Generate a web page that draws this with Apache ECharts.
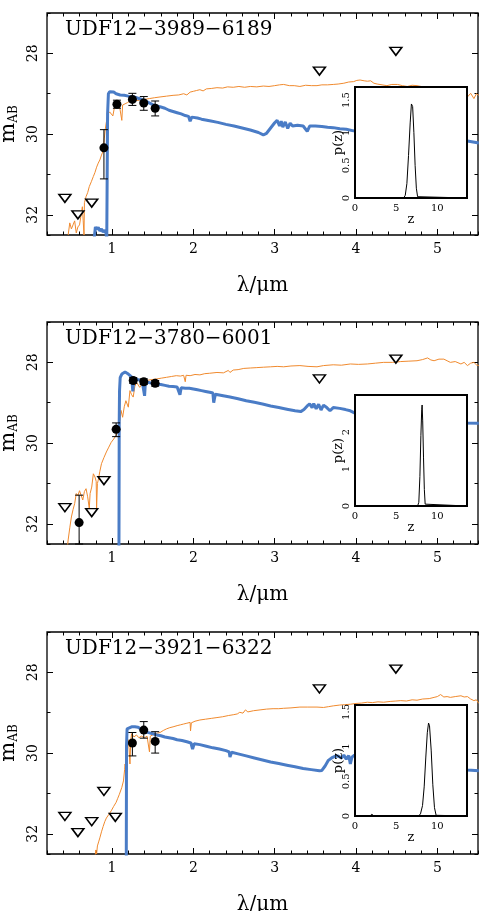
<!DOCTYPE html>
<html>
<head>
<meta charset="utf-8">
<script src="https://cdn.jsdelivr.net/npm/echarts@6/dist/echarts.min.js"></script>
<style>
  html, body { margin: 0; padding: 0; background: #fff; }
  #wrap { width: 481px; height: 911px; }
</style>
</head>
<body>
<div id="wrap"></div>
<script>
// object names
var names = ['UDF12\u22123989\u22126189', 'UDF12\u22123780\u22126001', 'UDF12\u22123921\u22126322'];

// tick labels
var xTicks = [1, 2, 3, 4, 5];
var yTicks = [28, 30, 32];
var pzXTicks = [0, 5, 10];
var pzYTicks1 = [0, 0.5, 1, 1.5];
var pzYTicks2 = [0, 1, 2];
var pzYTicks3 = [0, 0.5, 1, 1.5];
var pzMax = [1.7, 3.0, 1.6];
var pzStep = [0.5, 1, 0.5];

// ---- panel 1 : UDF12-3989-6189 ----
// high-z template [lambda um, mAB]
var blue1 = [[0.78,32.6],[0.795,32.3],[0.81,32.36],[0.83,32.31],[0.85,32.4],[0.87,32.35],[0.89,32.43],[0.91,32.38],[0.925,32.45],[0.935,32.6],[0.94,32.6],[0.945,29.5],[0.955,29.0],[0.97,28.95],[0.99,28.94],[1.02,28.96],[1.05,29.0],[1.1,29.03],[1.15,29.04],[1.2,29.06],[1.25,29.07],[1.3,29.1],[1.35,29.13],[1.4,29.17],[1.45,29.22],[1.5,29.27],[1.55,29.3],[1.6,29.33],[1.65,29.36],[1.7,29.41],[1.75,29.44],[1.8,29.47],[1.85,29.5],[1.9,29.54],[1.94,29.56],[1.96,29.68],[1.98,29.58],[2.05,29.6],[2.1,29.63],[2.2,29.67],[2.3,29.71],[2.4,29.76],[2.5,29.8],[2.6,29.85],[2.7,29.9],[2.8,29.96],[2.86,30.02],[2.9,29.98],[2.95,29.85],[3.0,29.72],[3.03,29.66],[3.06,29.8],[3.08,29.68],[3.1,29.83],[3.13,29.7],[3.16,29.86],[3.19,29.73],[3.22,29.8],[3.28,29.78],[3.35,29.8],[3.4,29.93],[3.43,29.8],[3.5,29.8],[3.58,29.81],[3.65,29.83],[3.72,29.84],[3.8,29.87],[3.88,29.88],[3.97,29.92],[4.05,29.93],[4.3,29.98],[4.6,30.04],[4.9,30.1],[5.2,30.15],[5.37,30.17],[5.51,30.22]];
// low-z template
var orange1 = [[0.46,32.5],[0.48,32.2],[0.5,32.35],[0.52,32.25],[0.54,32.15],[0.56,32.45],[0.58,32.3],[0.6,32.25],[0.62,32.0],[0.635,31.8],[0.645,32.15],[0.655,32.5],[0.66,31.7],[0.68,31.55],[0.7,31.45],[0.72,31.3],[0.745,31.18],[0.77,31.05],[0.79,30.95],[0.81,30.82],[0.83,30.72],[0.85,30.64],[0.87,30.52],[0.89,30.42],[0.905,30.1],[0.915,29.9],[0.93,29.7],[0.95,29.5],[0.97,29.45],[0.99,29.41],[1.01,29.55],[1.03,29.33],[1.06,29.31],[1.09,29.29],[1.11,29.3],[1.12,29.66],[1.13,29.28],[1.16,29.25],[1.19,29.22],[1.22,29.18],[1.28,29.17],[1.34,29.16],[1.4,29.14],[1.46,29.12],[1.52,29.1],[1.59,29.08],[1.67,29.06],[1.75,29.04],[1.82,29.03],[1.88,29.0],[1.92,29.03],[1.96,28.96],[2.0,28.94],[2.02,28.98],[2.04,28.92],[2.08,28.9],[2.12,28.93],[2.16,28.88],[2.22,28.87],[2.29,28.85],[2.36,28.86],[2.42,28.83],[2.49,28.84],[2.56,28.82],[2.63,28.84],[2.7,28.82],[2.78,28.83],[2.86,28.81],[2.93,28.82],[3.0,28.8],[3.06,28.78],[3.11,28.77],[3.18,28.8],[3.24,28.8],[3.31,28.82],[3.38,28.79],[3.45,28.8],[3.52,28.8],[3.58,28.78],[3.65,28.78],[3.72,28.77],[3.78,28.76],[3.85,28.74],[3.91,28.71],[3.97,28.7],[4.01,28.67],[4.05,28.66],[4.1,28.68],[4.14,28.69],[4.18,28.68],[4.22,28.74],[4.26,28.76],[4.32,28.78],[4.38,28.8],[4.44,28.77],[4.51,28.77],[4.57,28.8],[4.63,28.82],[4.69,28.79],[4.75,28.8],[4.85,28.84],[4.95,28.88],[5.05,28.93],[5.15,28.97],[5.25,29.0],[5.33,29.05],[5.37,29.08],[5.41,28.99],[5.45,29.12],[5.48,29.0],[5.51,29.04]];
// detections [lambda, mag, mag_bright, mag_faint]
var det1 = [[0.90,30.34,29.89,31.11],[1.06,29.26,29.16,29.36],[1.25,29.14,28.99,29.29],[1.39,29.23,29.07,29.41],[1.53,29.36,29.18,29.55]];
// upper limits
var lim1 = [[0.42,31.59],[0.58,32.0],[0.75,31.71],[3.55,28.44],[4.49,27.95]];
// p(z)
var pz1 = [[0,0],[5.9,0],[6.1,0.04],[6.3,0.22],[6.5,0.65],[6.7,1.15],[6.85,1.44],[6.92,1.47],[7.0,1.4],[7.15,1.0],[7.3,0.5],[7.45,0.15],[7.6,0.02],[7.75,0],[13.6,0]];

// ---- panel 2 : UDF12-3780-6001 ----
var blue2 = [[1.085,32.6],[1.088,29.5],[1.092,28.7],[1.1,28.38],[1.12,28.29],[1.14,28.25],[1.16,28.24],[1.18,28.26],[1.2,28.29],[1.22,28.33],[1.24,28.36],[1.255,28.72],[1.27,28.4],[1.3,28.42],[1.34,28.44],[1.37,28.46],[1.39,28.47],[1.4,28.83],[1.41,28.49],[1.45,28.5],[1.5,28.52],[1.55,28.54],[1.6,28.55],[1.65,28.57],[1.7,28.59],[1.75,28.6],[1.8,28.61],[1.82,28.63],[1.835,28.8],[1.85,28.63],[1.9,28.64],[1.95,28.64],[2.0,28.66],[2.05,28.68],[2.1,28.7],[2.15,28.72],[2.2,28.74],[2.24,28.76],[2.25,29.0],[2.27,28.79],[2.35,28.82],[2.45,28.86],[2.55,28.9],[2.65,28.95],[2.75,28.99],[2.85,29.03],[2.95,29.08],[3.05,29.12],[3.15,29.16],[3.25,29.2],[3.32,29.22],[3.36,29.17],[3.4,29.08],[3.43,29.03],[3.46,29.12],[3.48,29.02],[3.51,29.15],[3.54,29.04],[3.57,29.18],[3.6,29.06],[3.64,29.12],[3.68,29.2],[3.72,29.12],[3.8,29.14],[3.87,29.17],[3.93,29.2],[3.98,29.25],[4.02,29.2],[4.1,29.24],[4.4,29.3],[4.7,29.38],[5.0,29.44],[5.3,29.5],[5.51,29.51]];
var orange2 = [[0.45,32.6],[0.46,32.4],[0.48,32.1],[0.5,31.83],[0.52,31.65],[0.54,31.5],[0.56,31.25],[0.58,31.3],[0.6,31.18],[0.62,31.21],[0.64,31.41],[0.66,31.2],[0.68,31.13],[0.7,31.33],[0.72,31.62],[0.73,31.25],[0.75,31.09],[0.77,30.76],[0.79,30.84],[0.805,30.95],[0.81,31.62],[0.82,31.0],[0.83,30.92],[0.85,30.7],[0.87,30.51],[0.9,30.36],[0.93,30.22],[0.96,30.1],[0.99,29.98],[1.02,29.9],[1.05,29.81],[1.07,29.7],[1.09,29.52],[1.11,29.19],[1.13,29.36],[1.15,29.1],[1.17,28.95],[1.2,29.11],[1.22,28.7],[1.24,28.8],[1.26,28.86],[1.28,28.6],[1.3,28.49],[1.34,28.62],[1.38,28.5],[1.42,28.45],[1.48,28.43],[1.55,28.41],[1.61,28.39],[1.67,28.37],[1.73,28.35],[1.79,28.33],[1.84,28.34],[1.88,28.32],[1.9,28.48],[1.91,28.32],[1.96,28.33],[2.02,28.3],[2.08,28.31],[2.14,28.28],[2.2,28.27],[2.29,28.25],[2.37,28.26],[2.43,28.2],[2.45,28.25],[2.49,28.19],[2.55,28.18],[2.62,28.15],[2.7,28.14],[2.78,28.13],[2.86,28.12],[2.95,28.11],[3.03,28.1],[3.11,28.11],[3.2,28.09],[3.31,28.08],[3.41,28.1],[3.52,28.11],[3.6,28.08],[3.72,28.06],[3.82,28.07],[3.93,28.04],[4.03,28.05],[4.14,28.04],[4.24,28.02],[4.34,28.0],[4.45,28.0],[4.55,27.98],[4.65,27.97],[4.75,27.96],[4.82,27.93],[4.88,27.89],[4.92,27.94],[4.96,27.96],[5.02,27.92],[5.08,27.92],[5.12,27.96],[5.16,28.0],[5.22,27.98],[5.29,28.04],[5.33,28.0],[5.37,28.08],[5.41,28.02],[5.45,28.0],[5.48,28.06],[5.51,28.08]];
var det2 = [[0.595,31.97,31.29,32.5],[1.05,29.66,29.5,29.84],[1.26,28.45,28.38,28.52],[1.39,28.48,28.41,28.55],[1.53,28.52,28.45,28.59]];
var lim2 = [[0.42,31.6],[0.75,31.72],[0.9,30.93],[3.55,28.41],[4.49,27.92]];
var pz2 = [[0,0],[7.6,0],[7.75,0.1],[7.88,0.8],[8.0,1.9],[8.1,2.6],[8.15,2.73],[8.22,2.3],[8.32,1.3],[8.42,0.45],[8.52,0.05],[8.6,0],[13.6,0]];

// ---- panel 3 : UDF12-3921-6322 ----
var blue3 = [[1.175,32.6],[1.178,29.8],[1.185,29.4],[1.2,29.36],[1.24,29.35],[1.28,29.35],[1.32,29.36],[1.35,29.4],[1.38,29.45],[1.42,29.48],[1.46,29.5],[1.5,29.52],[1.55,29.55],[1.6,29.57],[1.65,29.6],[1.7,29.62],[1.75,29.64],[1.8,29.67],[1.86,29.69],[1.92,29.72],[1.97,29.75],[1.99,29.9],[2.01,29.77],[2.08,29.79],[2.16,29.83],[2.24,29.87],[2.32,29.9],[2.4,29.94],[2.44,29.97],[2.45,30.1],[2.47,29.98],[2.55,30.02],[2.65,30.07],[2.75,30.12],[2.85,30.17],[2.95,30.22],[3.05,30.26],[3.15,30.3],[3.25,30.34],[3.35,30.38],[3.45,30.41],[3.55,30.44],[3.58,30.43],[3.62,30.32],[3.66,30.18],[3.7,30.12],[3.74,30.08],[3.78,30.07],[3.82,30.12],[3.85,30.05],[3.88,30.15],[3.91,30.06],[3.93,30.27],[3.95,30.1],[3.98,30.05],[4.02,30.18],[4.06,30.08],[4.1,30.12],[4.4,30.2],[4.8,30.3],[5.2,30.38],[5.37,30.42],[5.51,30.44]];
var orange3 = [[0.79,32.6],[0.8,32.4],[0.81,32.5],[0.82,32.3],[0.835,32.2],[0.85,32.1],[0.87,31.95],[0.89,31.82],[0.91,31.7],[0.93,31.61],[0.96,31.52],[0.99,31.43],[1.02,31.32],[1.05,31.22],[1.07,31.12],[1.09,31.02],[1.12,30.85],[1.14,30.69],[1.155,30.4],[1.16,30.27],[1.17,30.45],[1.18,30.0],[1.2,29.67],[1.21,29.9],[1.22,30.27],[1.23,29.7],[1.24,29.52],[1.27,29.6],[1.3,29.55],[1.33,29.62],[1.36,29.58],[1.4,29.62],[1.43,29.58],[1.45,29.6],[1.46,29.97],[1.47,29.58],[1.5,29.55],[1.55,29.51],[1.59,29.49],[1.63,29.44],[1.67,29.4],[1.71,29.37],[1.75,29.35],[1.8,29.32],[1.84,29.3],[1.88,29.28],[1.92,29.26],[1.96,29.24],[1.965,29.45],[1.975,29.25],[2.02,29.21],[2.08,29.18],[2.15,29.16],[2.22,29.14],[2.29,29.12],[2.36,29.1],[2.43,29.07],[2.49,29.05],[2.54,29.03],[2.57,28.99],[2.61,29.01],[2.64,28.93],[2.67,28.98],[2.74,28.95],[2.82,28.93],[2.9,28.91],[2.98,28.9],[3.05,28.9],[3.11,28.89],[3.2,28.88],[3.31,28.86],[3.4,28.86],[3.52,28.86],[3.6,28.87],[3.66,28.85],[3.72,28.83],[3.8,28.81],[3.86,28.8],[3.93,28.79],[4.0,28.77],[4.07,28.76],[4.14,28.74],[4.2,28.75],[4.27,28.73],[4.34,28.74],[4.42,28.72],[4.49,28.71],[4.55,28.7],[4.62,28.71],[4.69,28.68],[4.75,28.69],[4.82,28.66],[4.9,28.65],[4.96,28.62],[5.0,28.6],[5.04,28.55],[5.08,28.61],[5.12,28.6],[5.16,28.62],[5.22,28.6],[5.29,28.58],[5.33,28.61],[5.37,28.6],[5.41,28.66],[5.45,28.7],[5.48,28.68],[5.51,28.77]];
var det3 = [[1.25,29.75,29.49,30.07],[1.39,29.43,29.22,29.63],[1.53,29.71,29.47,30.0]];
var lim3 = [[0.42,31.57],[0.58,31.97],[0.75,31.7],[0.9,30.95],[1.04,31.59],[3.55,28.41],[4.49,27.92]];
var pz3 = [[0,0],[1.8,0],[2.05,0.025],[2.3,0],[7.7,0],[7.95,0.03],[8.2,0.15],[8.4,0.42],[8.6,0.85],[8.78,1.2],[8.93,1.34],[9.05,1.3],[9.25,0.95],[9.45,0.45],[9.65,0.12],[9.85,0.01],[10.0,0],[13.6,0]];

var blues = [blue1, blue2, blue3];
var oranges = [orange1, orange2, orange3];
var dets = [det1, det2, det3];
var lims = [lim1, lim2, lim3];
var pzs = [pz1, pz2, pz3];
var pzYTicks = [pzYTicks1, pzYTicks2, pzYTicks3];

var serif = 'DejaVu Serif';
var BLUE = '#4a7cc6';
var ORANGE = '#f08a2e';
var mainTop = [13, 322, 632];
var insetTop = [87, 395, 705];

var option = {
  backgroundColor: '#fff',
  animation: false,
  title: [],
  grid: [],
  xAxis: [],
  yAxis: [],
  series: []
};

function plainAxis(extra) {
  var a = {
    type: 'value',
    axisLine: { show: false, onZero: false },
    splitLine: { show: false },
    axisLabel: { show: false },
    axisTick: { show: false }
  };
  for (var k in extra) a[k] = extra[k];
  return a;
}

for (var i = 0; i < 3; i++) {
  option.title.push({
    text: names[i], left: 60, top: mainTop[i] + 2,
    textStyle: { fontFamily: serif, fontSize: 20, fontWeight: 'normal', color: '#000' }
  });

  // main panel
  var g = option.grid.length;
  option.grid.push({
    left: 47, top: mainTop[i], width: 431, height: 222,
    show: true, borderColor: '#000', borderWidth: 1.3, backgroundColor: 'transparent',
    outerBoundsMode: 'none'
  });
  var xi = option.xAxis.length;
  var xr = { gridIndex: g, min: 0.2, max: 5.5, interval: 0.2 };
  // bottom: minor ticks + labels
  option.xAxis.push(plainAxis(Object.assign({}, xr, {
    position: 'bottom',
    axisTick: { show: true, inside: true, length: 3.5, lineStyle: { color: '#000' } },
    axisLabel: { show: true, customValues: xTicks, margin: 7, color: '#000', fontFamily: serif, fontSize: 14 },
    name: '\u03bb/\u03bcm', nameLocation: 'middle', nameGap: 41, nameMoveOverlap: false,
    nameTextStyle: { color: '#000', fontFamily: serif, fontSize: 20 }
  })));
  option.xAxis.push(plainAxis(Object.assign({}, xr, {
    position: 'bottom',
    axisTick: { show: true, inside: true, length: 6, customValues: xTicks, lineStyle: { color: '#000' } }
  })));
  option.xAxis.push(plainAxis(Object.assign({}, xr, {
    position: 'top',
    axisTick: { show: true, inside: true, length: 3.5, lineStyle: { color: '#000' } }
  })));
  option.xAxis.push(plainAxis(Object.assign({}, xr, {
    position: 'top',
    axisTick: { show: true, inside: true, length: 6, customValues: xTicks, lineStyle: { color: '#000' } }
  })));

  var yi = option.yAxis.length;
  var yr = { gridIndex: g, min: 27, max: 32.5, interval: 1, inverse: true };
  option.yAxis.push(plainAxis(Object.assign({}, yr, {
    position: 'left',
    axisTick: { show: true, inside: true, length: 3.5, lineStyle: { color: '#000' } },
    axisLabel: { show: true, customValues: yTicks, rotate: 90, margin: 7, color: '#000', fontFamily: serif, fontSize: 14 },
    name: '{m|m}{s|AB}', nameLocation: 'middle', nameGap: 27, nameRotate: 90, nameMoveOverlap: false,
    nameTextStyle: {
      color: '#000', fontFamily: serif,
      rich: {
        m: { fontFamily: serif, fontSize: 21, lineHeight: 22, verticalAlign: 'top', color: '#000' },
        s: { fontFamily: serif, fontSize: 12, lineHeight: 12, verticalAlign: 'bottom', color: '#000' }
      }
    }
  })));
  option.yAxis.push(plainAxis(Object.assign({}, yr, {
    position: 'left',
    axisTick: { show: true, inside: true, length: 6, customValues: yTicks, lineStyle: { color: '#000' } }
  })));
  option.yAxis.push(plainAxis(Object.assign({}, yr, {
    position: 'right',
    axisTick: { show: true, inside: true, length: 3.5, lineStyle: { color: '#000' } }
  })));
  option.yAxis.push(plainAxis(Object.assign({}, yr, {
    position: 'right',
    axisTick: { show: true, inside: true, length: 6, customValues: yTicks, lineStyle: { color: '#000' } }
  })));

  option.series.push({
    type: 'line', xAxisIndex: xi, yAxisIndex: yi, data: oranges[i],
    showSymbol: false, silent: true, lineStyle: { color: ORANGE, width: 1 }, z: 2
  });
  option.series.push({
    type: 'line', xAxisIndex: xi, yAxisIndex: yi, data: blues[i],
    showSymbol: false, silent: true, lineStyle: { color: BLUE, width: 3 }, z: 2
  });
  option.series.push({
    type: 'custom', xAxisIndex: xi, yAxisIndex: yi, z: 3, silent: true,
    data: dets[i].map(function (d) { return [d[0], d[2], d[3]]; }),
    renderItem: function (params, api) {
      var x = api.value(0);
      var a = api.coord([x, api.value(1)]);
      var b = api.coord([x, api.value(2)]);
      var st = { stroke: '#000', lineWidth: 1 };
      return {
        type: 'group',
        children: [
          { type: 'line', shape: { x1: a[0], y1: a[1], x2: b[0], y2: b[1] }, style: st },
          { type: 'line', shape: { x1: a[0] - 4, y1: a[1], x2: a[0] + 4, y2: a[1] }, style: st },
          { type: 'line', shape: { x1: b[0] - 4, y1: b[1], x2: b[0] + 4, y2: b[1] }, style: st }
        ]
      };
    }
  });
  option.series.push({
    type: 'scatter', xAxisIndex: xi, yAxisIndex: yi, z: 4, silent: true,
    data: dets[i].map(function (d) { return [d[0], d[1]]; }),
    symbol: 'circle', symbolSize: 9, itemStyle: { color: '#000', opacity: 1 }
  });
  option.series.push({
    type: 'scatter', xAxisIndex: xi, yAxisIndex: yi, z: 4, silent: true,
    data: lims[i],
    symbol: 'path://M0,0L12,0L6,8Z', symbolSize: [12, 8],
    itemStyle: { color: '#fff', borderColor: '#000', borderWidth: 1.5, opacity: 1 }
  });

  // inset p(z)
  var gi = option.grid.length;
  option.grid.push({
    left: 355, top: insetTop[i], width: 112, height: 111,
    show: true, borderColor: '#000', borderWidth: 2, backgroundColor: '#fff', z: 5,
    outerBoundsMode: 'none'
  });
  var ixi = option.xAxis.length;
  option.xAxis.push(plainAxis({
    gridIndex: gi, min: 0, max: 13.6, interval: 5, z: 6, position: 'bottom',
    axisLabel: { show: true, customValues: pzXTicks, margin: 5, color: '#000', fontFamily: serif, fontSize: 10 },
    name: 'z', nameLocation: 'middle', nameGap: 15, nameMoveOverlap: false,
    nameTextStyle: { color: '#000', fontFamily: serif, fontSize: 13 }
  }));
  var iyi = option.yAxis.length;
  option.yAxis.push(plainAxis({
    gridIndex: gi, min: 0, max: pzMax[i], interval: pzStep[i], z: 6, position: 'left',
    axisLabel: { show: true, customValues: pzYTicks[i], rotate: 90, margin: 4, color: '#000', fontFamily: serif, fontSize: 10 },
    name: 'p(z)', nameLocation: 'middle', nameGap: 10, nameRotate: 90, nameMoveOverlap: false,
    nameTextStyle: { color: '#000', fontFamily: serif, fontSize: 13 }
  }));
  option.series.push({
    type: 'line', xAxisIndex: ixi, yAxisIndex: iyi, data: pzs[i], z: 7,
    showSymbol: false, silent: true, lineStyle: { color: '#000', width: 1 }
  });
}

var myChart = echarts.init(document.getElementById('wrap'));
myChart.setOption(option);
</script>
</body>
</html>
